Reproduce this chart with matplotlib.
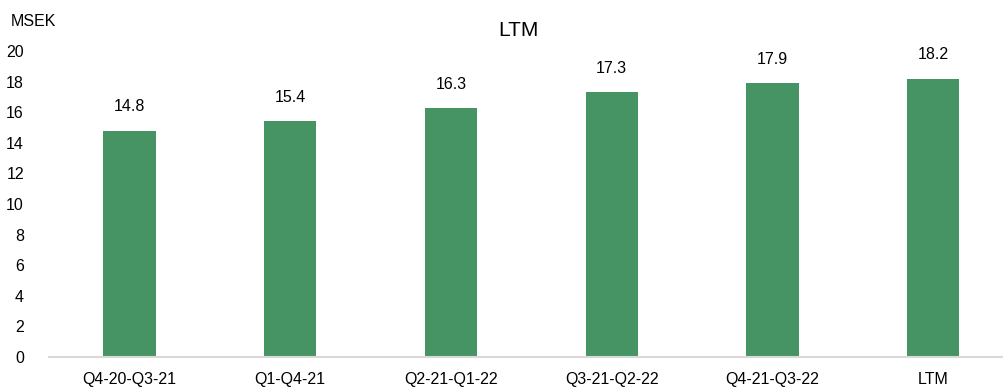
import matplotlib
matplotlib.use("Agg")
import matplotlib.pyplot as plt
from matplotlib import font_manager

# data
periods = ["Q4-20-Q3-21", "Q1-Q4-21", "Q2-21-Q1-22", "Q3-21-Q2-22", "Q4-21-Q3-22", "LTM"]
values = [14.8, 15.4, 16.3, 17.3, 17.9, 18.2]
yticks = [0, 2, 4, 6, 8, 10, 12, 14, 16, 18, 20]

names = {f.name for f in font_manager.fontManager.ttflist}
narrow = "Liberation Sans Narrow" if "Liberation Sans Narrow" in names else "Liberation Sans"
plt.rcParams["font.family"] = ["Liberation Sans", "DejaVu Sans"]

W, H = 1004, 387
fig = plt.figure(figsize=(W / 100, H / 100), dpi=100)
left, right, bottom, top = 49, 1004, 357, 51
ax = fig.add_axes([left / W, (H - bottom) / H, (right - left) / W, (bottom - top) / H])

x = list(range(len(periods)))
ax.bar(x, values, width=0.325, color="#469364", zorder=2)
for xi, v in zip(x, values):
    ax.text(xi, v + 1.05, f"{v:.1f}", ha="center", va="bottom", fontsize=11.5)

ax.set_xlim(-0.5, 5.44)
ax.set_ylim(0, 20)
ax.set_yticks(yticks)
ax.set_xticks(x)
ax.set_xticklabels(periods)
ax.tick_params(axis="both", length=0, labelsize=11.5)
ax.tick_params(axis="y", pad=18)
ax.tick_params(axis="x", pad=11)
for s in ["top", "right", "left"]:
    ax.spines[s].set_visible(False)
ax.spines["bottom"].set_color("#d9d9d9")
ax.spines["bottom"].set_linewidth(1.5)

fig.text(518 / W, 1 - 30 / H, "LTM", ha="center", va="center", fontsize=15)
fig.text(11 / W, 1 - 22 / H, "MSEK", ha="left", va="center", fontsize=11.5,
         family=[narrow, "DejaVu Sans"])

fig.savefig("out.png", dpi=100)
